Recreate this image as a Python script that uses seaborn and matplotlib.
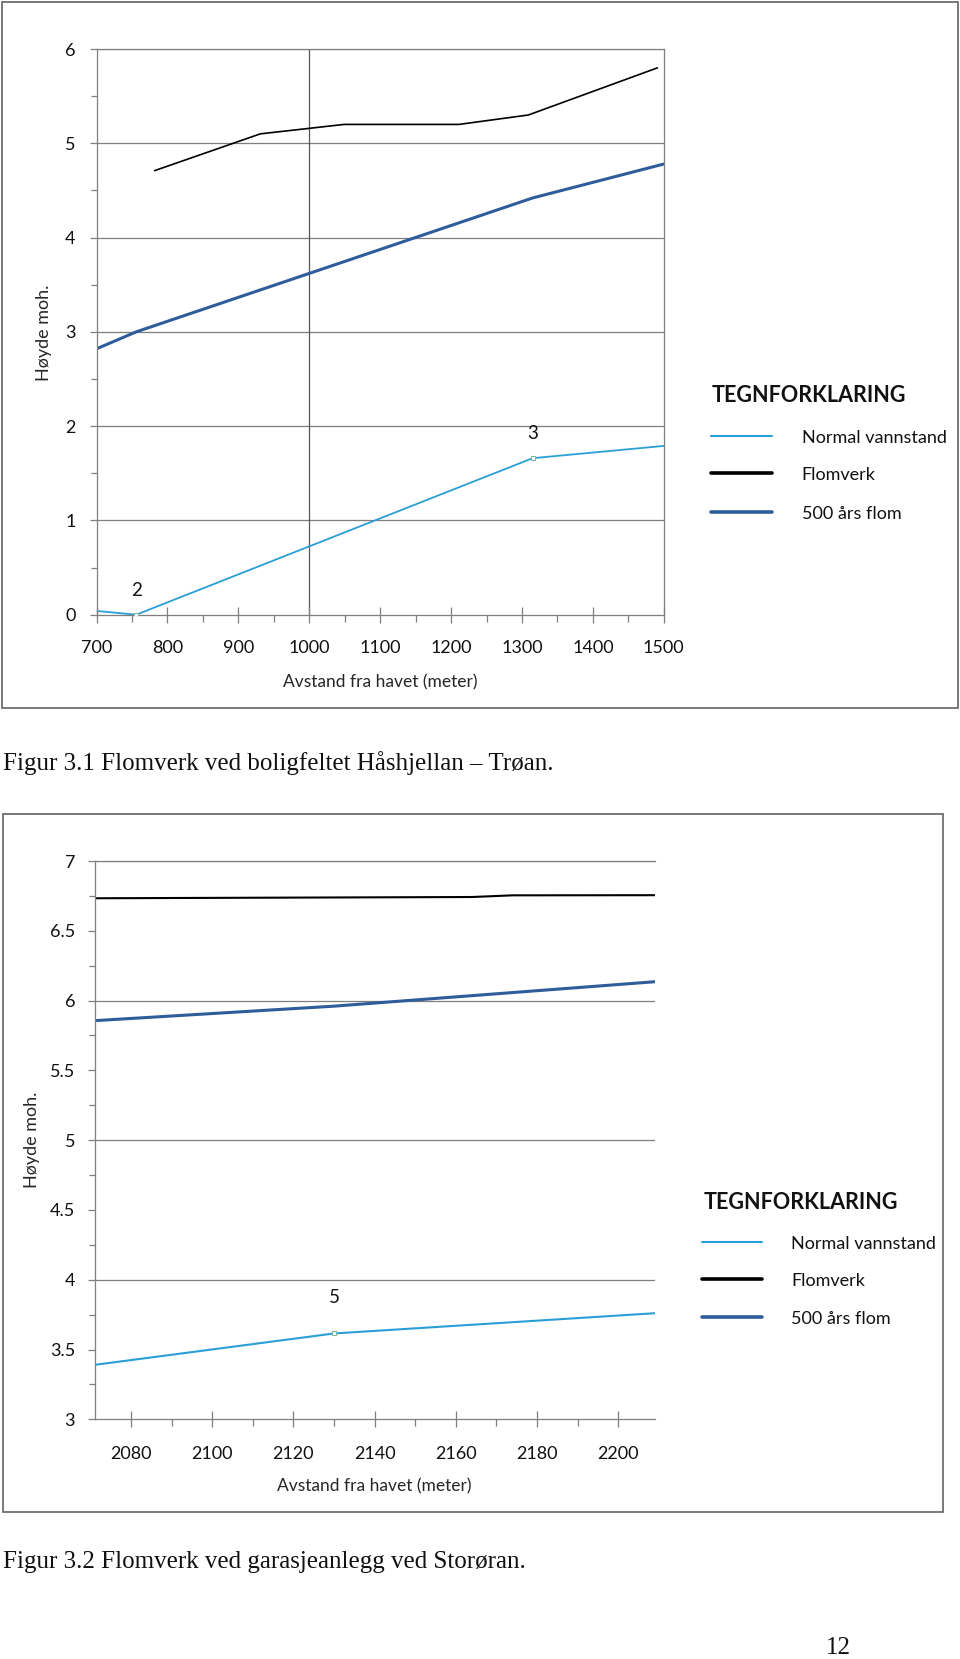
import numpy as np
import pandas as pd
import matplotlib
matplotlib.use("Agg")
import matplotlib.pyplot as plt
from matplotlib.lines import Line2D
from matplotlib.patches import Rectangle
from matplotlib.ticker import MultipleLocator, FuncFormatter
import seaborn as sns

# ---------------- data: Figur 3.1 ----------------
f1_normal_x = [700, 756, 1315, 1500]
f1_normal_y = [0.04, 0.0, 1.66, 1.79]
f1_flomverk_x = [782, 931, 1049, 1211, 1309, 1491]
f1_flomverk_y = [4.71, 5.10, 5.20, 5.20, 5.30, 5.80]
f1_flom500_x = [700, 756, 1315, 1500]
f1_flom500_y = [2.82, 3.00, 4.42, 4.78]
f1_points_x = [756, 1315]
f1_points_y = [0.0, 1.66]
f1_point_labels = ["2", "3"]

# ---------------- data: Figur 3.2 ----------------
f2_normal_x = [2071, 2130, 2209]
f2_normal_y = [3.39, 3.615, 3.76]
f2_flomverk_x = [2071, 2164, 2174, 2209]
f2_flomverk_y = [6.733, 6.742, 6.754, 6.755]
f2_flom500_x = [2071, 2130, 2209]
f2_flom500_y = [5.856, 5.96, 6.135]
f2_points_x = [2130]
f2_points_y = [3.615]
f2_point_labels = ["5"]

series_names = ["Normal vannstand", "Flomverk", "500 års flom"]
colors = {"Normal vannstand": "#2a9fd6", "Flomverk": "#000000", "500 års flom": "#2f5c9a"}

legend_title = "TEGNFORKLARING"
xlabel = "Avstand fra havet (meter)"
ylabel = "Høyde moh."
caption1 = "Figur 3.1 Flomverk ved boligfeltet Håshjellan – Trøan."
caption2 = "Figur 3.2 Flomverk ved garasjeanlegg ved Storøran."
page_no = "12"

sns.set_style("white")
plt.rcParams["font.family"] = ["Lato", "DejaVu Sans"]

W, H = 960, 1659
fig = plt.figure(figsize=(W / 100, H / 100), dpi=100)
GRID = "#7f7f7f"


def fx(px):
    return px / W


def fy(py):
    return 1 - py / H


# outer boxes
for (x0, y0, x1, y1) in [(2, 2, 958, 708), (3, 814, 943, 1512)]:
    fig.add_artist(Rectangle((fx(x0), fy(y1)), fx(x1 - x0), (y1 - y0) / H,
                             transform=fig.transFigure, fill=False,
                             edgecolor="#6e6e6e", linewidth=1.3))


def style_axes(ax, right_spine):
    for s in ["left", "top", "bottom"]:
        ax.spines[s].set_color(GRID)
        ax.spines[s].set_linewidth(0.9)
    ax.spines["right"].set_visible(right_spine)
    ax.spines["right"].set_color(GRID)
    ax.spines["right"].set_linewidth(0.9)
    ax.tick_params(axis="both", which="both", color=GRID, width=0.9,
                   bottom=True, left=True, top=False, right=False,
                   labelcolor="#111111", labelsize=13)


def draw_series(ax, xs, ys, name, lw):
    df = pd.DataFrame({"x": xs, "y": ys})
    sns.lineplot(data=df, x="x", y="y", ax=ax, color=colors[name],
                 linewidth=lw, sort=False, estimator=None)


def draw_points(ax, xs, ys, labels, dy):
    dfp = pd.DataFrame({"x": xs, "y": ys})
    sns.scatterplot(data=dfp, x="x", y="y", ax=ax, marker="s", s=9,
                    facecolor="white", edgecolor="#7fb89a", linewidth=0.8, zorder=5)
    for x, y, t in zip(xs, ys, labels):
        ax.text(x, y + dy, t, ha="center", va="center", fontsize=13.5, color="#111111")


def draw_legend(tx, ty, lx0, lx1, rows_y, text_x, lws):
    fig.text(fx(tx), fy(ty), legend_title, ha="left", va="center",
             fontsize=15.5, fontweight="bold", color="#111111")
    for name, yy, lw in zip(series_names, rows_y, lws):
        fig.add_artist(Line2D([fx(lx0), fx(lx1)], [fy(yy), fy(yy)],
                              transform=fig.transFigure, color=colors[name], linewidth=lw))
        fig.text(fx(text_x), fy(yy + 2), name, ha="left", va="center",
                 fontsize=13, color="#111111")


# ---------------- chart 1 ----------------
ax1 = fig.add_axes([fx(96.5), fy(614.7), fx(663.8 - 96.5), (614.7 - 49) / H])
ax1.set_xlim(700, 1500)
ax1.set_ylim(0, 6)
for gy in np.arange(1, 7):
    ax1.axhline(gy, color=GRID, linewidth=0.9, zorder=0)
ax1.axvline(1000, color="#555555", linewidth=0.9, zorder=0)
draw_series(ax1, f1_normal_x, f1_normal_y, "Normal vannstand", 1.3)
draw_series(ax1, f1_flomverk_x, f1_flomverk_y, "Flomverk", 1.2)
draw_series(ax1, f1_flom500_x, f1_flom500_y, "500 års flom", 2.2)
draw_points(ax1, f1_points_x, f1_points_y, f1_point_labels, 0.26)
ax1.xaxis.set_major_locator(MultipleLocator(100))
ax1.xaxis.set_minor_locator(MultipleLocator(50))
ax1.yaxis.set_major_locator(MultipleLocator(1))
ax1.yaxis.set_minor_locator(MultipleLocator(0.5))
style_axes(ax1, True)
ax1.tick_params(axis="x", which="major", direction="inout", length=12, pad=12)
ax1.tick_params(axis="x", which="minor", direction="out", length=5)
ax1.tick_params(axis="y", which="major", direction="out", length=5, pad=10)
ax1.tick_params(axis="y", which="minor", direction="out", length=4)
ax1.set_xlabel(xlabel, fontsize=12.5, va="center")
ax1.xaxis.set_label_coords(0.5, -0.120)
ax1.set_ylabel(ylabel, fontsize=13, va="center")
ax1.yaxis.set_label_coords(-0.0925, 0.498)
draw_legend(711.7, 395, 711, 772, [435.7, 473.3, 511.7], 801.7, [1.5, 2.6, 2.6])

# ---------------- chart 2 ----------------
ax2 = fig.add_axes([fx(94.5), fy(1419.3), fx(654.8 - 94.5), (1419.3 - 861) / H])
ax2.set_xlim(2071, 2209)
ax2.set_ylim(3, 7)
for gy in np.arange(4, 8):
    ax2.axhline(gy, color=GRID, linewidth=0.9, zorder=0)
draw_series(ax2, f2_normal_x, f2_normal_y, "Normal vannstand", 1.5)
draw_series(ax2, f2_flomverk_x, f2_flomverk_y, "Flomverk", 1.5)
draw_series(ax2, f2_flom500_x, f2_flom500_y, "500 års flom", 2.2)
draw_points(ax2, f2_points_x, f2_points_y, f2_point_labels, 0.26)
ax2.xaxis.set_major_locator(MultipleLocator(20))
ax2.xaxis.set_minor_locator(MultipleLocator(10))
ax2.yaxis.set_major_locator(MultipleLocator(0.5))
ax2.yaxis.set_minor_locator(MultipleLocator(0.25))
ax2.yaxis.set_major_formatter(FuncFormatter(lambda v, p: f"{v:g}"))
style_axes(ax2, False)
ax2.tick_params(axis="x", which="major", direction="inout", length=12, pad=13)
ax2.tick_params(axis="x", which="minor", direction="out", length=5)
ax2.tick_params(axis="y", which="major", direction="out", length=5, pad=9)
ax2.tick_params(axis="y", which="minor", direction="out", length=4)
ax2.set_xlabel(xlabel, fontsize=12.5, va="center")
ax2.xaxis.set_label_coords(0.4985, -0.1207)
ax2.set_ylabel(ylabel, fontsize=13, va="center")
ax2.yaxis.set_label_coords(-0.1107, 0.5)
draw_legend(703.3, 1202.3, 701.7, 761.7, [1241.7, 1279.3, 1316.7], 791, [1.5, 2.6, 2.6])

# ---------------- captions ----------------
serif = ["Liberation Serif", "DejaVu Serif"]
fig.text(fx(3), fy(763), caption1, ha="left", va="center",
         fontsize=18, family=serif, color="#111111")
fig.text(fx(3), fy(1562), caption2, ha="left", va="center",
         fontsize=18, family=serif, color="#111111")
fig.text(fx(838), fy(1648), page_no, ha="center", va="center",
         fontsize=18, family=serif, color="#111111")

fig.savefig("out.png", dpi=100)
